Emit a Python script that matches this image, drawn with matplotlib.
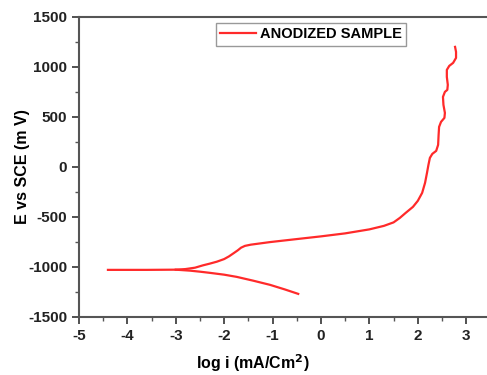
import matplotlib
matplotlib.use("Agg")
import matplotlib.pyplot as plt
from matplotlib.ticker import MultipleLocator

plt.rcParams["font.family"] = ["Liberation Sans", "DejaVu Sans"]
plt.rcParams["font.weight"] = "bold"
plt.rcParams["axes.unicode_minus"] = False

# anodic branch (log i, E)
anodic_logi = [-4.4, -3.6, -3.0, -2.8, -2.6, -2.44, -2.3, -2.15, -2.0, -1.9, -1.8,
               -1.72, -1.65, -1.57, -1.45, -1.25, -1.05, -0.5, 0.0, 0.5, 1.0, 1.3,
               1.5, 1.63, 1.75, 1.9, 2.0, 2.09, 2.15, 2.19, 2.22, 2.25, 2.30, 2.38,
               2.42, 2.43, 2.44, 2.48, 2.55, 2.56, 2.53, 2.52, 2.56, 2.61, 2.62,
               2.60, 2.60, 2.65, 2.73, 2.79, 2.79, 2.77]
anodic_e = [-1030, -1030, -1028, -1022, -1008, -985, -968, -948, -922, -895, -862,
            -835, -808, -790, -778, -765, -752, -722, -695, -665, -625, -590,
            -555, -510, -460, -400, -340, -260, -160, -60, 20, 90, 130, 160,
            220, 320, 400, 450, 490, 540, 620, 700, 750, 770, 820,
            900, 970, 1010, 1040, 1090, 1150, 1200]

# cathodic branch
cathodic_logi = [-3.0, -2.7, -2.5, -2.29, -2.0, -1.74, -1.4, -1.05, -0.75, -0.47]
cathodic_e = [-1028, -1038, -1048, -1060, -1078, -1100, -1138, -1180, -1225, -1270]

fig = plt.figure(figsize=(4.87, 3.75), dpi=100)
ax = fig.add_axes([0.162, 0.155, 0.845, 0.80])

red = "#ff2a2a"
ax.plot(anodic_logi, anodic_e, color=red, linewidth=1.6, label="ANODIZED SAMPLE",
        solid_joinstyle="round")
ax.plot(cathodic_logi, cathodic_e, color=red, linewidth=1.6, solid_joinstyle="round")

ax.set_xlim(-5, 3.5)
ax.set_ylim(-1500, 1500)
ax.xaxis.set_major_locator(MultipleLocator(1))
ax.xaxis.set_minor_locator(MultipleLocator(0.5))
ax.yaxis.set_major_locator(MultipleLocator(500))
ax.yaxis.set_minor_locator(MultipleLocator(250))
ax.tick_params(which="major", direction="out", length=5, width=1.2, labelsize=11, colors="#333333")
ax.tick_params(which="minor", direction="out", length=3, width=1.0, colors="#555555")
ax.tick_params(labelcolor="#222222")
for side in ["left", "bottom", "top", "right"]:
    ax.spines[side].set_linewidth(1.5)
    ax.spines[side].set_color("#555555")

ax.set_xlabel("log i (mA/Cm$^\\mathbf{2}$)", fontsize=11.5, fontweight="bold")
ax.set_ylabel("E vs SCE (m V)", fontsize=11.5, fontweight="bold")
ax.xaxis.set_label_coords((253 - 79) / 411, -0.117)
ax.yaxis.set_label_coords(-0.118, 0.5)

leg = ax.legend(loc="upper left", bbox_to_anchor=(0.333, 0.98), borderaxespad=0,
                prop={"weight": "bold", "size": 10.5}, fancybox=False, framealpha=1,
                handlelength=2.45, borderpad=0.3, handletextpad=0.25)
leg.get_frame().set_edgecolor("#999999")
leg.get_frame().set_linewidth(1.0)

fig.savefig("out.png", dpi=100)
